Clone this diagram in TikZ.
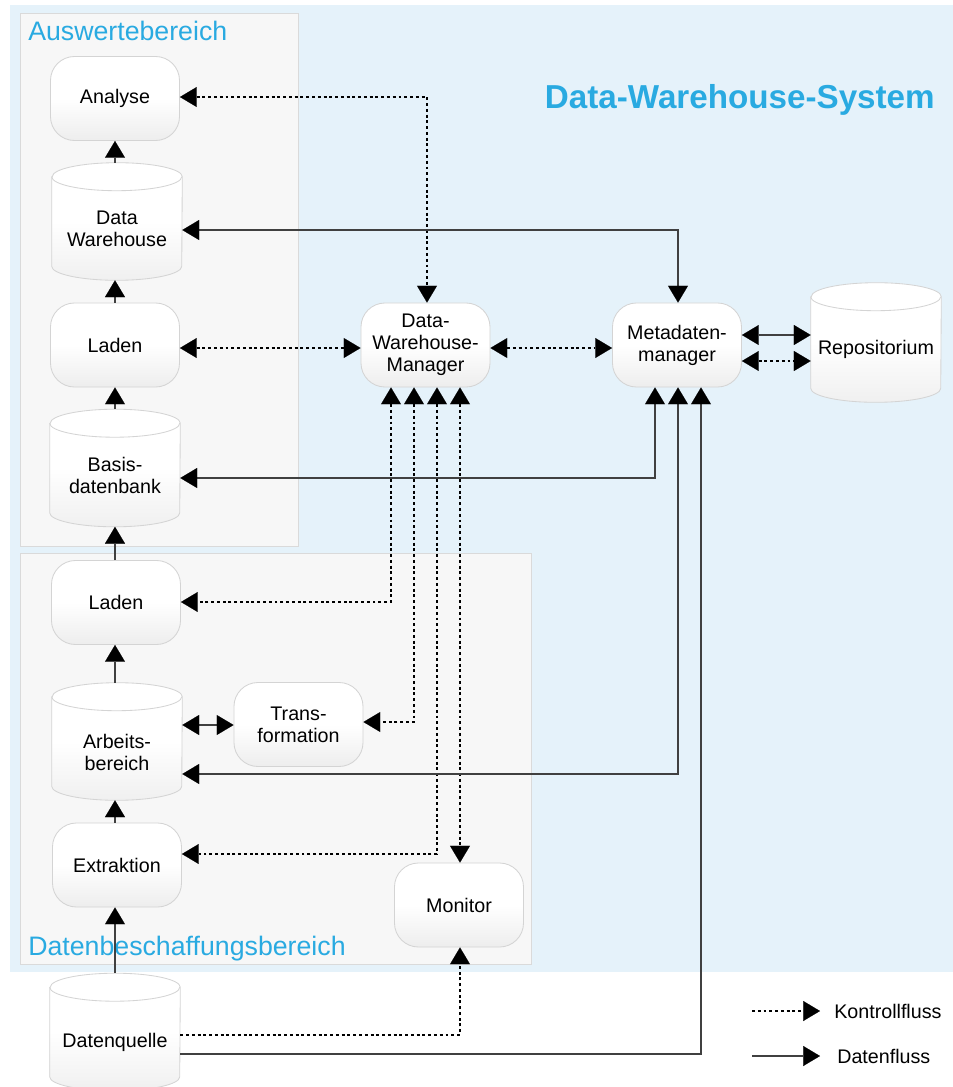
\documentclass[tikz,border=0pt]{standalone}
\usepackage{fontspec}
\setmainfont{Liberation Sans}
\usetikzlibrary{arrows.meta}
\definecolor{bgblue}{RGB}{229,242,250}
\definecolor{tblue}{RGB}{41,170,225}
\definecolor{regfill}{RGB}{247,247,247}
\definecolor{regline}{RGB}{218,218,218}
\definecolor{nline}{RGB}{212,212,212}
\pgfdeclarelayer{bg}
\pgfdeclarelayer{cyl}
\pgfsetlayers{bg,cyl,main}
\newcommand\nfont{\fontsize{14}{15.6}\selectfont}
\newcommand\cylbody[1]{%
  \path[draw=nline,line width=0.6pt,top color=white,bottom color=black!6,middle color=white]
    ([yshift=-0.35cm]#1.north west) -- ([yshift=0.35cm]#1.south west)
    arc[start angle=180,end angle=360,x radius=1.625cm,y radius=0.35cm]
    -- ([yshift=-0.35cm]#1.north east)
    arc[start angle=0,end angle=180,x radius=1.625cm,y radius=0.35cm] -- cycle;
  \draw[nline,line width=0.6pt] ([yshift=-0.35cm]#1.north west)
    arc[start angle=180,end angle=360,x radius=1.625cm,y radius=0.35cm];
}
\begin{document}
\begin{tikzpicture}[x=0.025cm,y=-0.025cm,
  arr/.style={-{Triangle[length=0.42cm,width=0.5cm,color=black,line width=0.1pt]}},
  arrs/.style={{Triangle[length=0.42cm,width=0.5cm,color=black,line width=0.1pt]}-{Triangle[length=0.42cm,width=0.5cm,color=black,line width=0.1pt]}},
  ctrl/.style={line width=2.1pt,dash pattern=on 2.1pt off 2.0pt,black},
  data/.style={line width=0.9pt,black!75},
  proc/.style={draw=nline,line width=0.6pt,rounded corners=0.6cm,top color=white,bottom color=black!7,middle color=white,
    minimum width=3.225cm,minimum height=2.1cm,align=center,font=\nfont,inner sep=0pt},
  cylbox/.style={minimum width=3.25cm,minimum height=2.925cm,inner sep=0pt},
  ctext/.style={font=\nfont,align=center,inner sep=0pt},
  region/.style={fill=regfill,draw=regline,line width=0.6pt},
  rlabel/.style={text=tblue,font=\fontsize{19}{22}\selectfont,inner sep=0pt,anchor=base west}]
\useasboundingbox (0,0) rectangle (953,1087);
\begin{pgfonlayer}{bg}
  \fill[bgblue] (10,5) rectangle (953,972);
  \path[region] (20,13) rectangle (298,546);
  \path[region] (20,553) rectangle (531,964);
\end{pgfonlayer}
% labels
\node[rlabel] (lab1) at (28,40) {Auswertebereich};
\node[rlabel] (lab2) at (28,955) {Datenbeschaffungsbereich};
\node[text=tblue,font=\fontsize{23.6}{26}\selectfont\bfseries,inner sep=0pt,anchor=base east] (title) at (935,108) {Data-Warehouse-System};
% nodes
\node[proc] (an) at (115,98.5) {Analyse};
\node[cylbox] (dw) at (117,221.5) {};
\node[ctext] (dwt) at (117,229) {Data\\Warehouse};
\node[proc] (l1) at (115,345) {Laden};
\node[cylbox] (bd) at (115,468) {};
\node[ctext] (bdt) at (115,475) {Basis-\\datenbank};
\node[proc] (l2) at (116,602.5) {Laden};
\node[cylbox] (ab) at (117,741.5) {};
\node[ctext] (abt) at (117,752) {Arbeits-\\bereich};
\node[proc] (tr) at (298.5,724.5) {Trans-\\formation};
\node[proc] (ex) at (117,865) {Extraktion};
\node[proc] (mon) at (459,905) {Monitor};
\node[cylbox] (dq) at (115,1032) {};
\node[ctext] (dqt) at (115,1042) {Datenquelle};
\node[proc] (dwm) at (425.5,345) {Data-\\Warehouse-\\Manager};
\node[proc] (mm) at (677,345) {Metadaten-\\manager};
\node[cylbox,minimum height=2.975cm] (rep) at (876,342.5) {};
\node[ctext] (rept) at (876,349) {Repositorium};
\begin{pgfonlayer}{cyl}
  \cylbody{dw}\cylbody{bd}\cylbody{ab}\cylbody{dq}\cylbody{rep}
\end{pgfonlayer}
% vertical data chain
\draw[data,arr] (115,0 |- dw.north) -- (115,0 |- an.south);
\draw[data,arr] (115,0 |- l1.north) -- (115,0 |- dw.south);
\draw[data,arr] (115,0 |- bd.north) -- (115,0 |- l1.south);
\draw[data,arr] (115,0 |- l2.north) -- (115,0 |- bd.south);
\draw[data,arr] (115,0 |- ab.north) -- (115,0 |- l2.south);
\draw[data,arr] (115,0 |- ex.north) -- (115,0 |- ab.south);
\draw[data,arr] (115,0 |- dq.north) -- (115,0 |- ex.south);
% control flows
\draw[ctrl,arrs] (an.east |- 0,97) -| (427,0 |- dwm.north);
\draw[ctrl,arrs] (l1.east |- 0,348) -- (dwm.west |- 0,348);
\draw[ctrl,arrs] (dwm.east |- 0,348) -- (mm.west |- 0,348);
\draw[ctrl,arrs] (mm.east |- 0,361) -- (rep.west |- 0,361);
\draw[ctrl,arrs] (391,0 |- dwm.south) |- (l2.east |- 0,602);
\draw[ctrl,arrs] (414,0 |- dwm.south) |- (tr.east |- 0,722);
\draw[ctrl,arrs] (437,0 |- dwm.south) |- (ex.east |- 0,854);
\draw[ctrl,arrs] (460,0 |- dwm.south) -- (460,0 |- mon.north);
\draw[ctrl,arr] (dq.east |- 0,1035) -| (460,0 |- mon.south);
% data flows
\draw[data,arrs] (mm.east |- 0,335) -- (rep.west |- 0,335);
\draw[data,arrs] (dw.east |- 0,230) -| (678,0 |- mm.north);
\draw[data,arrs] (bd.east |- 0,478) -| (655,0 |- mm.south);
\draw[data,arrs] (ab.east |- 0,774) -| (678,0 |- mm.south);
\draw[data,arr] (dq.east |- 0,1054) -| (701,0 |- mm.south);
\draw[data,arrs] (ab.east |- 0,725) -- (tr.west |- 0,725);
% legend
\coordinate (k1) at (752,1011);
\coordinate (k2) at (820,1011);
\coordinate (d1) at (752,1056);
\coordinate (d2) at (820,1056);
\draw[ctrl,arr] (k1) -- (k2);
\draw[data,arr] (d1) -- (d2);
\node[font=\nfont,inner sep=0pt,anchor=west] (kt) at (834,1011) {Kontrollfluss};
\node[font=\nfont,inner sep=0pt,anchor=west] (dt) at (837,1056) {Datenfluss};
\end{tikzpicture}
\end{document}
